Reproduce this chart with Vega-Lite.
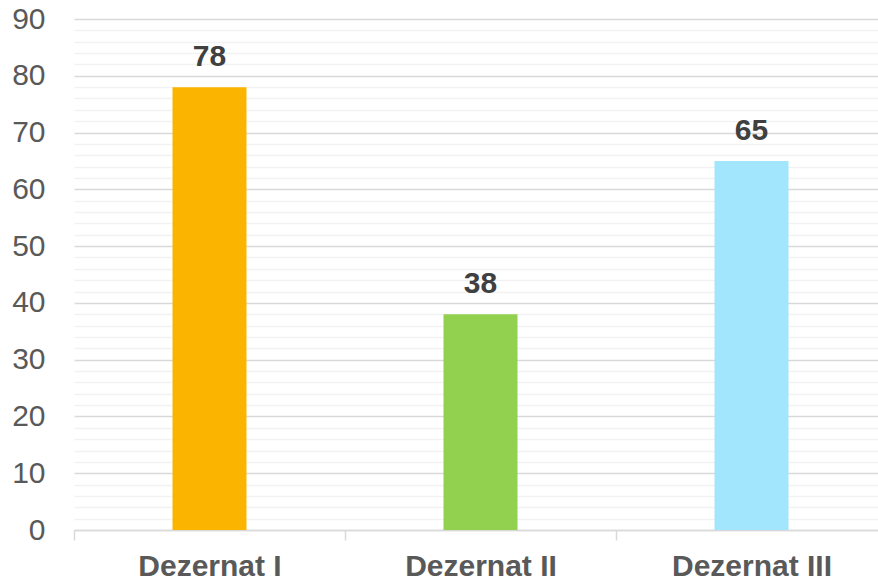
{
  "$schema": "https://vega.github.io/schema/vega-lite/v6.json",
  "width": 804,
  "height": 511,
  "autosize": "none",
  "padding": {"left": 74, "top": 19, "right": 0, "bottom": 56},
  "background": "white",
  "config": {"view": {"stroke": null}, "font": "Liberation Sans"},
  "data": {"values": [
    {"category": "Dezernat I", "value": 78},
    {"category": "Dezernat II", "value": 38},
    {"category": "Dezernat III", "value": 65}
  ]},
  "encoding": {
    "x": {"field": "category", "type": "nominal", "sort": null,
      "scale": {"paddingInner": 0, "paddingOuter": 0, "range": [0, 813]},
      "axis": {"title": null, "labelAngle": 0, "labelFont": "Liberation Sans", "labelFontSize": 30, "labelFontWeight": "bold", "labelColor": "#595959", "labelPadding": 11, "domainColor": "#d9d9d9", "domainWidth": 1.5, "ticks": true, "tickBand": "extent", "tickColor": "#d9d9d9", "tickWidth": 1.5, "tickSize": 10, "grid": false}},
    "y": {"field": "value", "type": "quantitative",
      "scale": {"domain": [0, 90], "nice": false},
      "axis": {"title": null, "values": [0,2,4,6,8,10,12,14,16,18,20,22,24,26,28,30,32,34,36,38,40,42,44,46,48,50,52,54,56,58,60,62,64,66,68,70,72,74,76,78,80,82,84,86,88,90],
        "labelExpr": "datum.value % 10 === 0 ? datum.label : ''",
        "labelFont": "Liberation Sans", "labelFontSize": 30, "labelColor": "#595959", "labelPadding": 29,
        "domain": false, "ticks": false, "grid": true, "gridWidth": 1.5,
        "gridColor": {"condition": {"test": "datum.value % 10 === 0", "value": "#d9d9d9"}, "value": "#f2f2f2"}}}
  },
  "layer": [
    {"mark": {"type": "bar", "width": 74},
      "encoding": {"color": {"field": "category", "type": "nominal", "sort": null, "legend": null,
        "scale": {"range": ["#FBB500", "#92D050", "#A1E6FC"]}}}},
    {"mark": {"type": "text", "baseline": "middle", "dy": -30, "fontSize": 30, "fontWeight": "bold", "color": "#404040", "font": "Liberation Sans"},
      "encoding": {"text": {"field": "value", "type": "quantitative"}}}
  ]
}
